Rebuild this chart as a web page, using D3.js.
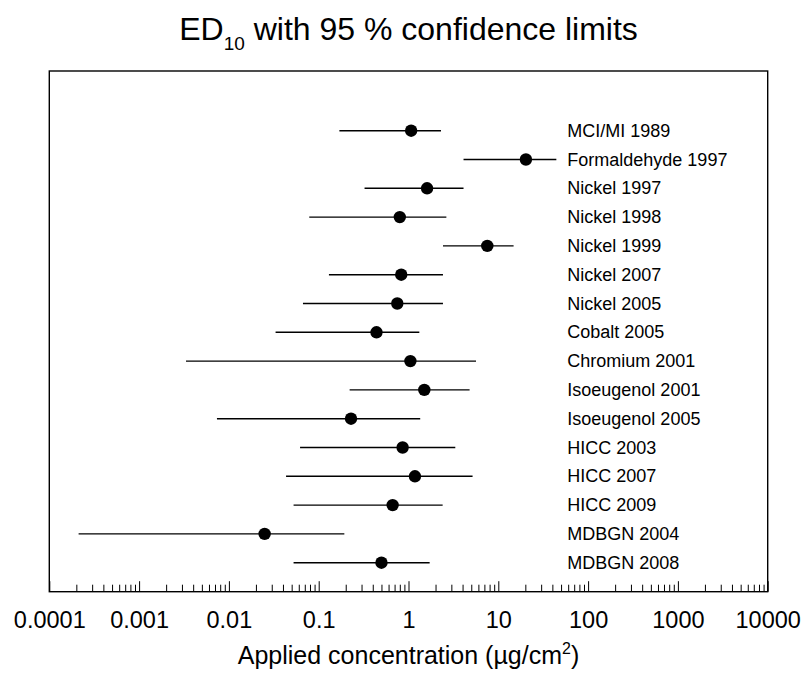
<!DOCTYPE html>
<html>
<head>
<meta charset="utf-8">
<script src="https://cdn.jsdelivr.net/npm/d3@7"></script>
<style>
  html, body { margin: 0; padding: 0; background: #fff; }
  svg { display: block; font-family: "Liberation Sans", Arial, sans-serif; }
</style>
</head>
<body>
<svg id="chart" width="805" height="679"></svg>
<script>
// ---- data ----
const studies = ["MCI/MI 1989","Formaldehyde 1997","Nickel 1997","Nickel 1998","Nickel 1999",
  "Nickel 2007","Nickel 2005","Cobalt 2005","Chromium 2001","Isoeugenol 2001","Isoeugenol 2005",
  "HICC 2003","HICC 2007","HICC 2009","MDBGN 2004","MDBGN 2008"];
const ed10  = [1.07, 20.3, 1.61, 0.80, 7.54, 0.83, 0.75, 0.44, 1.05, 1.50, 0.229, 0.86, 1.18, 0.666, 0.025, 0.50];
const lower = [0.17, 4.1, 0.324, 0.0785, 2.42, 0.130, 0.0668, 0.0331, 0.00333, 0.221, 0.00736, 0.0620, 0.0433, 0.0525, 0.000212, 0.0525];
const upper = [2.3, 44.3, 4.1, 2.64, 14.8, 2.42, 2.42, 1.32, 5.65, 4.79, 1.35, 3.32, 5.17, 2.4, 0.193, 1.72];
const tickValues = [1e-4, 1e-3, 1e-2, 1e-1, 1, 10, 100, 1000, 10000];
const tickLabels = ["0.0001","0.001","0.01","0.1","1","10","100","1000","10000"];

// ---- layout ----
const svg = d3.select("#chart");
const plotLeft = 49.3, plotRight = 767.7, plotTop = 71, plotBottom = 591.7;

const x = d3.scaleLog().domain([1e-4, 1e4]).range([plotLeft, plotRight]);
const y = d3.scalePoint().domain(studies).range([130.7, 562.7]);

// frame
svg.append("rect")
  .attr("x", plotLeft).attr("y", plotTop)
  .attr("width", plotRight - plotLeft).attr("height", plotBottom - plotTop)
  .attr("fill", "none").attr("stroke", "#000").attr("stroke-width", 1.4);

// ticks (inside, upward)
const minor = [];
for (let k = -4; k < 4; k++) for (let m = 2; m <= 9; m++) minor.push(m * Math.pow(10, k));
const axisMinor = d3.axisBottom(x).tickValues(minor).tickSizeInner(-7).tickSizeOuter(0).tickFormat("");
const axisMajor = d3.axisBottom(x).tickValues(tickValues).tickSizeInner(-10.5).tickSizeOuter(0)
  .tickPadding(20).tickFormat((d, i) => tickLabels[i]);

const gMinor = svg.append("g").attr("transform", `translate(0,${plotBottom})`).call(axisMinor);
gMinor.select(".domain").remove();
gMinor.selectAll("line").attr("stroke", "#000").attr("stroke-width", 1);

const gMajor = svg.append("g").attr("transform", `translate(0,${plotBottom})`).call(axisMajor);
gMajor.select(".domain").remove();
gMajor.selectAll("line").attr("stroke", "#000").attr("stroke-width", 1);
gMajor.selectAll("text").attr("font-size", 23.5).attr("fill", "#000")
  .attr("font-family", "Liberation Sans, Arial, sans-serif");

// whiskers
const rows = studies.map((s, i) => ({ s, v: ed10[i], lo: lower[i], hi: upper[i] }));
svg.append("g").selectAll("line").data(rows).join("line")
  .attr("x1", d => x(d.lo)).attr("x2", d => x(d.hi))
  .attr("y1", d => y(d.s)).attr("y2", d => y(d.s))
  .attr("stroke", "#000").attr("stroke-width", 1.4);

// points
svg.append("g").selectAll("circle").data(rows).join("circle")
  .attr("cx", d => x(d.v)).attr("cy", d => y(d.s)).attr("r", 6.2)
  .attr("fill", "#000");

// labels
svg.append("g").selectAll("text").data(rows).join("text")
  .attr("x", 567.3).attr("y", d => y(d.s) + 6)
  .attr("font-size", 18).attr("fill", "#000")
  .text(d => d.s);

// title
const cx = (plotLeft + plotRight) / 2;
const title = svg.append("text").attr("x", cx).attr("y", 40).attr("text-anchor", "middle")
  .attr("font-size", 32).attr("fill", "#000");
title.append("tspan").text("ED");
title.append("tspan").attr("font-size", 19).attr("dy", 10).text("10");
title.append("tspan").attr("dy", -10).text(" with 95 % confidence limits");

// x-axis title
const xt = svg.append("text").attr("x", cx).attr("y", 664).attr("text-anchor", "middle")
  .attr("font-size", 25).attr("fill", "#000");
xt.append("tspan").text("Applied concentration (µg/cm");
xt.append("tspan").attr("font-size", 16).attr("dy", -10).text("2");
xt.append("tspan").attr("dy", 10).text(")");
</script>
</body>
</html>
